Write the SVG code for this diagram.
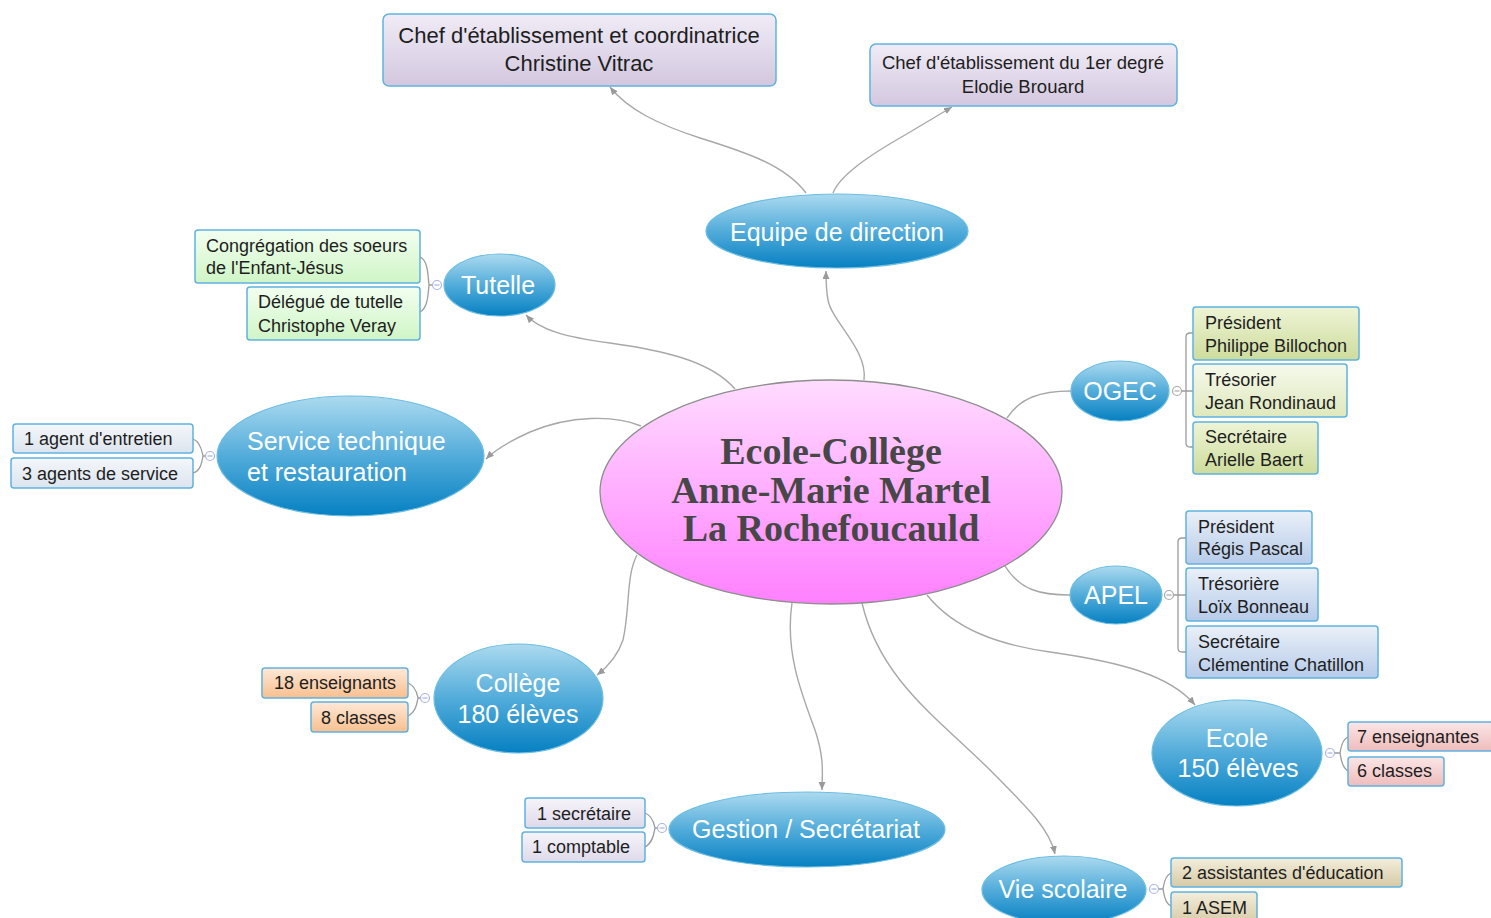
<svg xmlns="http://www.w3.org/2000/svg" width="1491" height="918" viewBox="0 0 1491 918">
<defs>
<linearGradient id="gBlue" x1="0" y1="0" x2="0" y2="1"><stop offset="0" stop-color="#acdaef"/><stop offset="0.5" stop-color="#52acda"/><stop offset="1" stop-color="#0680c2"/></linearGradient>
<linearGradient id="gPink" x1="0" y1="0" x2="0" y2="1"><stop offset="0" stop-color="#ffdcff"/><stop offset="1" stop-color="#ff80ff"/></linearGradient>
<linearGradient id="gLav" x1="0" y1="0" x2="0" y2="1"><stop offset="0" stop-color="#f0ecf6"/><stop offset="1" stop-color="#d3c7df"/></linearGradient>
<linearGradient id="gGreen" x1="0" y1="0" x2="0" y2="1"><stop offset="0" stop-color="#f2fff0"/><stop offset="1" stop-color="#cff5c6"/></linearGradient>
<linearGradient id="gOlive" x1="0" y1="0" x2="0" y2="1"><stop offset="0" stop-color="#eef4d6"/><stop offset="1" stop-color="#cddc9c"/></linearGradient>
<linearGradient id="gOliveL" x1="0" y1="0" x2="0" y2="1"><stop offset="0" stop-color="#f6f9ec"/><stop offset="1" stop-color="#dfe8bc"/></linearGradient>
<linearGradient id="gSky" x1="0" y1="0" x2="0" y2="1"><stop offset="0" stop-color="#eaf0f8"/><stop offset="1" stop-color="#b6cbe9"/></linearGradient>
<linearGradient id="gGray" x1="0" y1="0" x2="0" y2="1"><stop offset="0" stop-color="#f4f7fb"/><stop offset="1" stop-color="#dce4ee"/></linearGradient>
<linearGradient id="gRose" x1="0" y1="0" x2="0" y2="1"><stop offset="0" stop-color="#fbe6e6"/><stop offset="1" stop-color="#efbcbc"/></linearGradient>
<linearGradient id="gPeach" x1="0" y1="0" x2="0" y2="1"><stop offset="0" stop-color="#fee9d8"/><stop offset="1" stop-color="#f8bf8e"/></linearGradient>
<linearGradient id="gMauve" x1="0" y1="0" x2="0" y2="1"><stop offset="0" stop-color="#f6f4f9"/><stop offset="1" stop-color="#dedaeb"/></linearGradient>
<linearGradient id="gTan" x1="0" y1="0" x2="0" y2="1"><stop offset="0" stop-color="#f3eedc"/><stop offset="1" stop-color="#d6caa6"/></linearGradient>
<marker id="arr" markerWidth="9" markerHeight="8" refX="8" refY="3.5" orient="auto" markerUnits="userSpaceOnUse"><path d="M0,0 L8,3.5 L0,7 z" fill="#9a9a9a"/></marker>
</defs>
<style>
.conn{fill:none;stroke:#a8a8a8;stroke-width:1.4}
.brk{fill:none;stroke:#9c9c9c;stroke-width:1.3}
.blue{fill:url(#gBlue);stroke:#6cbde2;stroke-width:1.2}
.box{stroke:#5fb2e0;stroke-width:1.5}
.bt{font-family:"Liberation Sans",Arial,sans-serif;font-size:25px;fill:#ffffff}
.ct{font-family:"Liberation Sans",Arial,sans-serif;font-size:18px;fill:#1e1e1e}
.tt{font-family:"Liberation Sans",Arial,sans-serif;fill:#1e1e1e}
.col{fill:#ffffff;stroke:#a9b4e2;stroke-width:1.2}
.colg{fill:#ffffff;stroke:#a8a8a8;stroke-width:1.2}
</style>
<rect width="1491" height="918" fill="#ffffff"/>

<g id="connectors">
<path class="conn" d="M806,193 C785,165 745,152 700,138 C660,125 628,110 610,87" marker-end="url(#arr)"/>
<path class="conn" d="M833,193 C840,175 870,155 905,135 C925,123 940,114 952,107" marker-end="url(#arr)"/>
<path class="conn" d="M864,380 C868,350 832,322 828,300 C826,290 826,282 826,271" marker-end="url(#arr)"/>
<path class="conn" d="M735,389 C710,360 660,350 610,343 C565,337 540,330 526,315" marker-end="url(#arr)"/>
<path class="conn" d="M641,426 C615,415 570,415 530,432 C510,441 495,450 486,459" marker-end="url(#arr)"/>
<path class="conn" d="M637,555 C626,575 630,610 623,640 C618,655 610,665 597,675" marker-end="url(#arr)"/>
<path class="conn" d="M792,603 C785,650 800,690 815,730 C825,760 822,775 822,790" marker-end="url(#arr)"/>
<path class="conn" d="M862,603 C880,680 940,720 990,770 C1030,810 1050,830 1055,854" marker-end="url(#arr)"/>
<path class="conn" d="M927,595 C955,630 1000,645 1050,652 C1120,662 1170,675 1195,705" marker-end="url(#arr)"/>
<path class="conn" d="M1007,418 C1020,398 1040,391 1071,391"/>
<path class="conn" d="M1005,566 C1020,590 1040,595 1070,595"/>
</g>

<g id="center">
<ellipse cx="831" cy="492" rx="231" ry="112" fill="url(#gPink)" stroke="#8e8e8e" stroke-width="1.3"/>
<g font-family="'Liberation Serif','Times New Roman',serif" font-weight="bold" font-size="38" fill="#474747" text-anchor="middle">
<text x="831" y="464">Ecole-Collège</text>
<text x="831" y="503">Anne-Marie Martel</text>
<text x="831" y="541">La Rochefoucauld</text>
</g>
</g>

<g id="chef1">
<rect class="box" x="383" y="14" width="393" height="72" rx="6" fill="url(#gLav)"/>
<text class="tt" x="579" y="43" font-size="22" text-anchor="middle">Chef d'établissement et coordinatrice</text>
<text class="tt" x="579" y="71" font-size="22" text-anchor="middle">Christine Vitrac</text>
</g>

<g id="chef2">
<rect class="box" x="870" y="44" width="307" height="62" rx="6" fill="url(#gLav)"/>
<text class="tt" x="1023" y="69" font-size="18.5" text-anchor="middle">Chef d'établissement du 1er degré</text>
<text class="tt" x="1023" y="93" font-size="18.5" text-anchor="middle">Elodie Brouard</text>
</g>

<g id="equipe">
<ellipse class="blue" cx="837" cy="231" rx="131" ry="37"/>
<text class="bt" x="837" y="241" text-anchor="middle">Equipe de direction</text>
</g>

<g id="tutelle">
<ellipse class="blue" cx="499.5" cy="285" rx="55.5" ry="31"/>
<text class="bt" x="498" y="294" text-anchor="middle">Tutelle</text>
<path class="brk" d="M420,257 C428,260 428,276 429,285 C428,294 428,308 420,312 M429,285 L432.5,285"/>
<circle class="col" cx="437" cy="285" r="4.5"/><path d="M434.5,285 H439.5" stroke="#a9b4e2" stroke-width="1.2"/>
</g>
<g id="tutelle-1">
<rect class="box" x="195" y="230" width="225" height="53" rx="3" fill="url(#gGreen)"/>
<text class="ct" x="206" y="252">Congrégation des soeurs</text>
<text class="ct" x="206" y="274">de l'Enfant-Jésus</text>
</g>
<g id="tutelle-2">
<rect class="box" x="247" y="287" width="173" height="53" rx="3" fill="url(#gGreen)"/>
<text class="ct" x="258" y="308">Délégué de tutelle</text>
<text class="ct" x="258" y="332">Christophe Veray</text>
</g>

<g id="service">
<ellipse class="blue" cx="350.5" cy="456" rx="133.5" ry="60"/>
<text class="bt" x="247" y="450">Service technique</text>
<text class="bt" x="247" y="481">et restauration</text>
<path class="brk" d="M193,439 C201,442 202,452 203,456 C202,461 201,471 193,473 M203,456 L205.5,456"/>
<circle class="col" cx="210" cy="456" r="4.5"/><path d="M207.5,456 H212.5" stroke="#a9b4e2" stroke-width="1.2"/>
</g>
<g id="service-1">
<rect class="box" x="13" y="424" width="180" height="29" rx="3" fill="url(#gGray)"/>
<text class="ct" x="24" y="445">1 agent d'entretien</text>
</g>
<g id="service-2">
<rect class="box" x="11" y="458" width="182" height="30" rx="3" fill="url(#gGray)"/>
<text class="ct" x="22" y="480">3 agents de service</text>
</g>

<g id="ogec">
<ellipse class="blue" cx="1120" cy="391" rx="49" ry="30"/>
<text class="bt" x="1120" y="400" text-anchor="middle" font-size="23">OGEC</text>
<path class="brk" d="M1181.5,391 H1193 M1193,333 H1190 Q1186,333 1186,337 V443 Q1186,447 1190,447 H1193"/>
<circle class="colg" cx="1177" cy="391" r="4.5"/><path d="M1174.5,391 H1179.5" stroke="#a8a8a8" stroke-width="1.2"/>
</g>
<g id="ogec-1">
<rect class="box" x="1193" y="307" width="166" height="53" rx="3" fill="url(#gOlive)"/>
<text class="ct" x="1205" y="329">Président</text>
<text class="ct" x="1205" y="352">Philippe Billochon</text>
</g>
<g id="ogec-2">
<rect class="box" x="1193" y="364" width="154" height="53" rx="3" fill="url(#gOliveL)"/>
<text class="ct" x="1205" y="386">Trésorier</text>
<text class="ct" x="1205" y="409">Jean Rondinaud</text>
</g>
<g id="ogec-3">
<rect class="box" x="1193" y="422" width="125" height="52" rx="3" fill="url(#gOlive)"/>
<text class="ct" x="1205" y="443">Secrétaire</text>
<text class="ct" x="1205" y="466">Arielle Baert</text>
</g>

<g id="apel">
<ellipse class="blue" cx="1116" cy="595" rx="46" ry="29"/>
<text class="bt" x="1116" y="604" text-anchor="middle" font-size="23">APEL</text>
<path class="brk" d="M1173.5,595 H1186 M1186,538 H1182 Q1178,538 1178,542 V648 Q1178,652 1182,652 H1186"/>
<circle class="colg" cx="1169" cy="595" r="4.5"/><path d="M1166.5,595 H1171.5" stroke="#a8a8a8" stroke-width="1.2"/>
</g>
<g id="apel-1">
<rect class="box" x="1186" y="511" width="126" height="53" rx="3" fill="url(#gSky)"/>
<text class="ct" x="1198" y="533">Président</text>
<text class="ct" x="1198" y="555">Régis Pascal</text>
</g>
<g id="apel-2">
<rect class="box" x="1186" y="568" width="132" height="53" rx="3" fill="url(#gSky)"/>
<text class="ct" x="1198" y="590">Trésorière</text>
<text class="ct" x="1198" y="613">Loïx Bonneau</text>
</g>
<g id="apel-3">
<rect class="box" x="1186" y="626" width="192" height="52" rx="3" fill="url(#gSky)"/>
<text class="ct" x="1198" y="648">Secrétaire</text>
<text class="ct" x="1198" y="671">Clémentine Chatillon</text>
</g>

<g id="ecole">
<ellipse class="blue" cx="1237" cy="753" rx="85" ry="53"/>
<text class="bt" x="1237" y="747" text-anchor="middle">Ecole</text>
<text class="bt" x="1238" y="777" text-anchor="middle">150 élèves</text>
<path class="brk" d="M1348,737 C1341,740 1341,749 1340,753 C1341,757 1341,767 1348,771 M1340,753 L1334.5,753"/>
<circle class="col" cx="1330" cy="753" r="4.5"/><path d="M1327.5,753 H1332.5" stroke="#a9b4e2" stroke-width="1.2"/>
</g>
<g id="ecole-1">
<rect class="box" x="1348" y="722" width="150" height="29" rx="3" fill="url(#gRose)"/>
<text class="ct" x="1357" y="743">7 enseignantes</text>
</g>
<g id="ecole-2">
<rect class="box" x="1348" y="757" width="96" height="29" rx="3" fill="url(#gRose)"/>
<text class="ct" x="1357" y="777">6 classes</text>
</g>

<g id="vie">
<ellipse class="blue" cx="1064" cy="890" rx="82" ry="34"/>
<text class="bt" x="1063" y="898" text-anchor="middle">Vie scolaire</text>
<path class="brk" d="M1171,873 C1164,876 1164,885 1163,889 C1164,893 1164,903 1171,906 M1163,889 L1158.5,889"/>
<circle class="col" cx="1154" cy="889" r="4.5"/><path d="M1151.5,889 H1156.5" stroke="#a9b4e2" stroke-width="1.2"/>
</g>
<g id="vie-1">
<rect class="box" x="1171" y="858" width="231" height="29" rx="3" fill="url(#gTan)"/>
<text class="ct" x="1182" y="879">2 assistantes d'éducation</text>
</g>
<g id="vie-2">
<rect class="box" x="1171" y="892" width="86" height="32" rx="3" fill="url(#gTan)"/>
<text class="ct" x="1182" y="914">1 ASEM</text>
</g>

<g id="college">
<ellipse class="blue" cx="518.5" cy="698.5" rx="84.5" ry="54.5"/>
<text class="bt" x="518" y="692" text-anchor="middle">Collège</text>
<text class="bt" x="518" y="723" text-anchor="middle">180 élèves</text>
<path class="brk" d="M408,683 C416,686 417,694 418,698 C417,703 416,712 408,716 M418,698 L420.5,698"/>
<circle class="col" cx="425" cy="698" r="4.5"/><path d="M422.5,698 H427.5" stroke="#a9b4e2" stroke-width="1.2"/>
</g>
<g id="college-1">
<rect class="box" x="262" y="668" width="146" height="30" rx="3" fill="url(#gPeach)"/>
<text class="ct" x="274" y="689">18 enseignants</text>
</g>
<g id="college-2">
<rect class="box" x="311" y="702" width="97" height="30" rx="3" fill="url(#gPeach)"/>
<text class="ct" x="321" y="724">8 classes</text>
</g>

<g id="gestion">
<ellipse class="blue" cx="807" cy="829.5" rx="138" ry="37.5"/>
<text class="bt" x="806" y="838" text-anchor="middle">Gestion / Secrétariat</text>
<path class="brk" d="M645,813 C653,816 654,824 655,828 C654,833 653,843 645,847 M655,828 L657.5,828"/>
<circle class="col" cx="662" cy="828" r="4.5"/><path d="M659.5,828 H664.5" stroke="#a9b4e2" stroke-width="1.2"/>
</g>
<g id="gestion-1">
<rect class="box" x="525" y="798" width="120" height="30" rx="3" fill="url(#gMauve)"/>
<text class="ct" x="537" y="820">1 secrétaire</text>
</g>
<g id="gestion-2">
<rect class="box" x="522" y="832" width="123" height="30" rx="3" fill="url(#gMauve)"/>
<text class="ct" x="532" y="853">1 comptable</text>
</g>
</svg>
